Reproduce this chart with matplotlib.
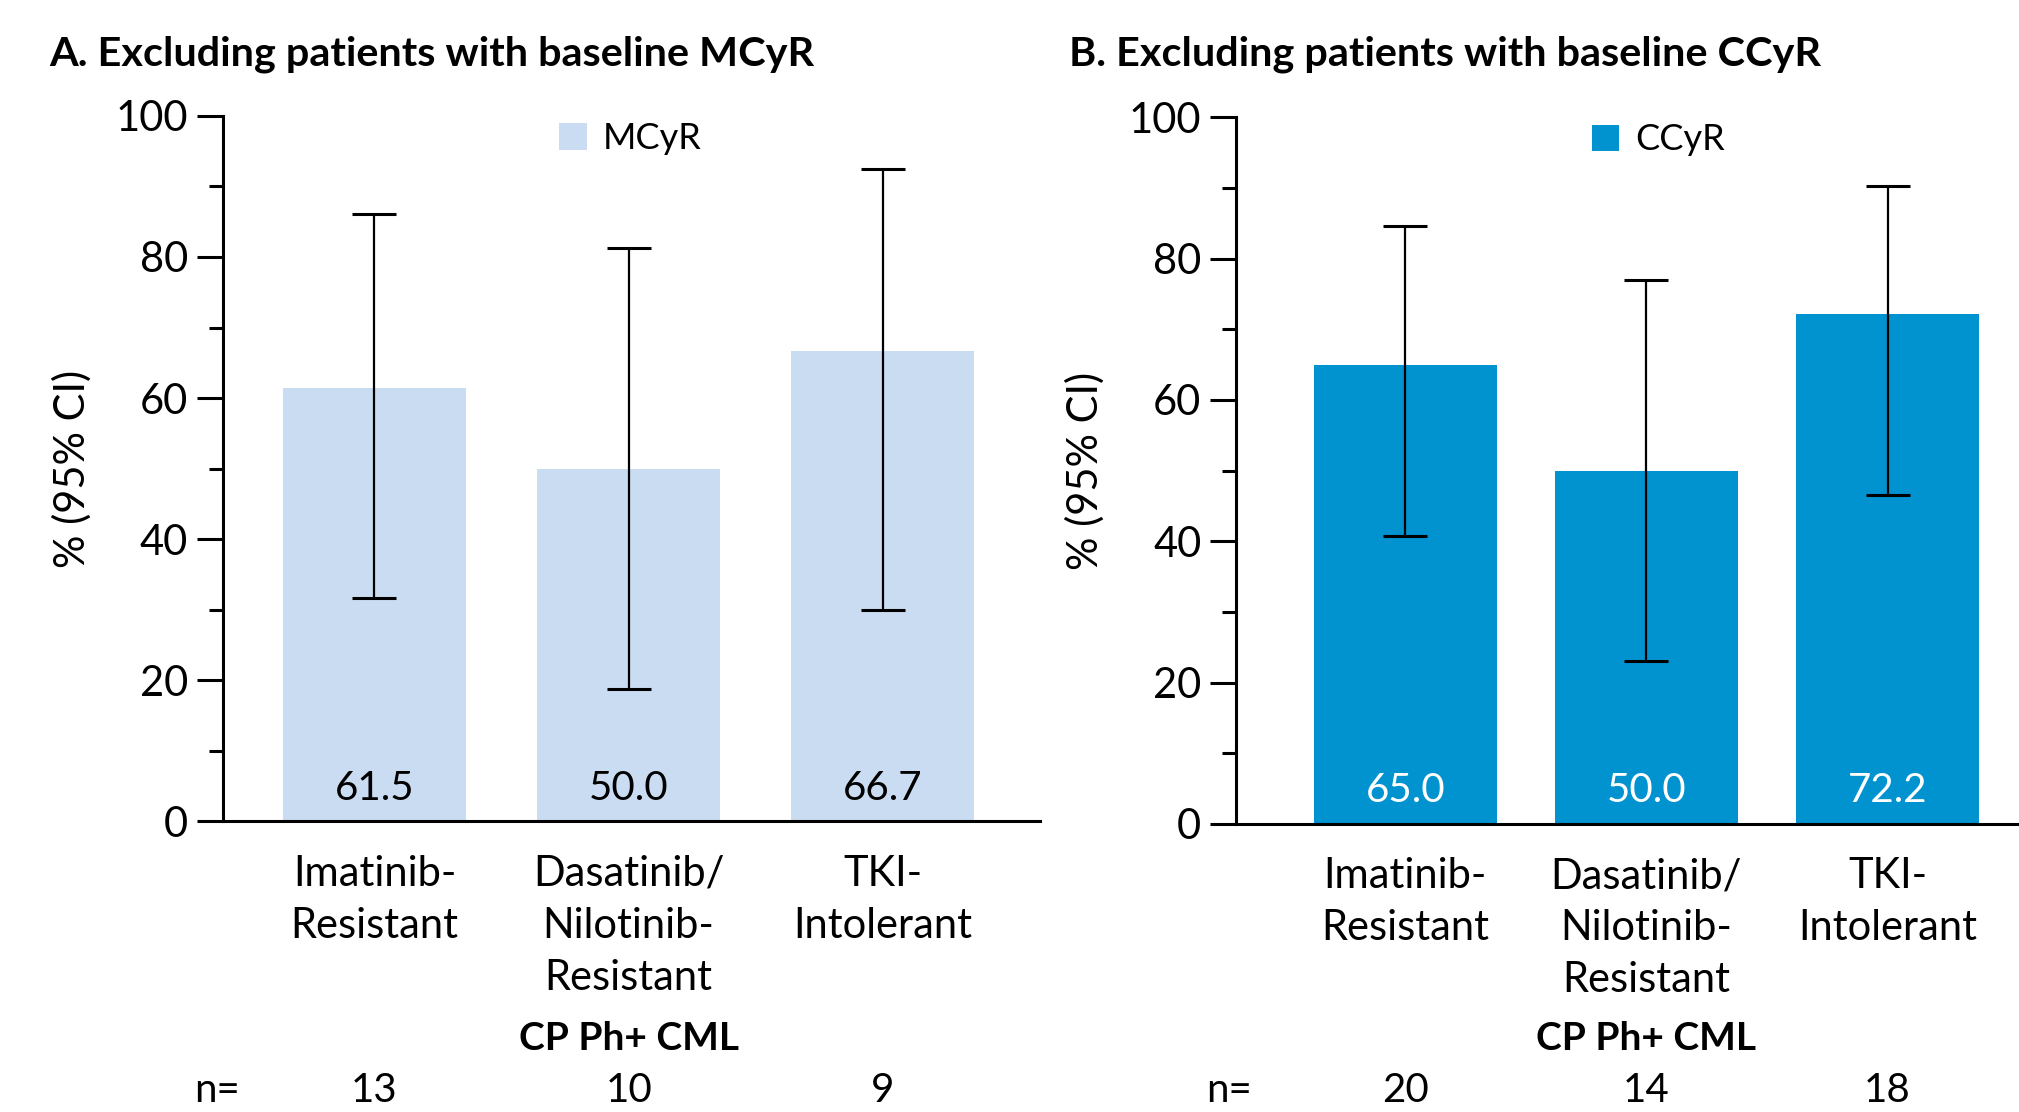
import matplotlib
matplotlib.use("Agg")
import matplotlib.pyplot as plt
from matplotlib import font_manager

# humanist sans, falls back if missing
names = {f.name for f in font_manager.fontManager.ttflist}
fam = "DejaVu Sans"
for cand in ["Lato", "Roboto", "Noto Sans"]:
    if cand in names:
        fam = cand
        break
plt.rcParams['font.family'] = [fam, 'DejaVu Sans']

categories = ["Imatinib-\nResistant", "Dasatinib/\nNilotinib-\nResistant", "TKI-\nIntolerant"]

mcyr_vals = [61.5, 50.0, 66.7]
mcyr_lo = [31.6, 18.7, 29.9]
mcyr_hi = [86.1, 81.3, 92.5]
mcyr_n = [13, 10, 9]

ccyr_vals = [65.0, 50.0, 72.2]
ccyr_lo = [40.8, 23.0, 46.5]
ccyr_hi = [84.6, 77.0, 90.3]
ccyr_n = [20, 14, 18]

fig = plt.figure(figsize=(20.19, 11.12), dpi=100)
axA = fig.add_axes([0.1103, 0.2613, 0.5151 - 0.1103, 0.8958 - 0.2613])
axB = fig.add_axes([0.6122, 0.259, 1.0 - 0.6122, 0.8946 - 0.259])


def panel(ax, vals, lo, hi, nvals, color, txtcolor, label, width, xlim, nx, ycp, yn):
    x = list(range(len(vals)))
    yerr = [[v - l for v, l in zip(vals, lo)], [h - v for v, h in zip(vals, hi)]]
    ax.bar(x, vals, width=width, color=color, label=label, zorder=1)
    ax.errorbar(x, vals, yerr=yerr, fmt='none', ecolor='black', elinewidth=1.6,
                capsize=16, capthick=2.2, zorder=3)
    for xi, v in zip(x, vals):
        ax.text(xi, 4.7, f"{v:.1f}", ha='center', va='center', fontsize=29, color=txtcolor, zorder=4)
    ax.set_xlim(*xlim)
    ax.set_ylim(0, 100)
    ax.set_yticks([0, 20, 40, 60, 80, 100])
    ax.set_yticks([10, 30, 50, 70, 90], minor=True)
    ax.tick_params(axis='y', which='major', length=19, width=2.2, labelsize=30, pad=6)
    ax.tick_params(axis='y', which='minor', length=10, width=2.2)
    ax.set_xticks(x)
    ax.set_xticklabels(categories, fontsize=30, linespacing=1.45)
    ax.tick_params(axis='x', length=0, pad=24)
    for s in ['top', 'right']:
        ax.spines[s].set_visible(False)
    for s in ['left', 'bottom']:
        ax.spines[s].set_linewidth(2.2)
    ax.set_ylabel("% (95% CI)", fontsize=30, labelpad=17)
    tr = ax.get_xaxis_transform()
    ax.text(1, ycp, "CP Ph+ CML", transform=tr, ha='center', va='center', fontsize=28, fontweight='bold')
    ax.text(nx, yn, "n=", transform=tr, ha='center', va='baseline', fontsize=29)
    for xi, n in zip(x, nvals):
        ax.text(xi, yn, str(n), transform=tr, ha='center', va='baseline', fontsize=29)


panel(axA, mcyr_vals, mcyr_lo, mcyr_hi, mcyr_n, '#CADCF1', 'black', 'MCyR',
      0.72, (-0.597, 2.618), -0.62, -0.307, -0.398)
panel(axB, ccyr_vals, ccyr_lo, ccyr_hi, ccyr_n, '#0093D0', 'white', 'CCyR',
      0.76, (-0.702, 2.545), -0.73, -0.303, -0.393)

axA.legend(loc='center left', bbox_to_anchor=(0.412, 0.968), frameon=False, fontsize=26,
           handlelength=0.75, handleheight=0.75, handletextpad=0.45, borderpad=0, borderaxespad=0)
axB.legend(loc='center left', bbox_to_anchor=(0.455, 0.968), frameon=False, fontsize=26,
           handlelength=0.75, handleheight=0.75, handletextpad=0.45, borderpad=0, borderaxespad=0)

fig.text(0.0243, 0.951, "A. Excluding patients with baseline MCyR", ha='left', va='center',
         fontsize=29.8, fontweight='bold')
fig.text(0.5294, 0.951, "B. Excluding patients with baseline CCyR", ha='left', va='center',
         fontsize=29.8, fontweight='bold')

fig.savefig("out.png", dpi=100)
